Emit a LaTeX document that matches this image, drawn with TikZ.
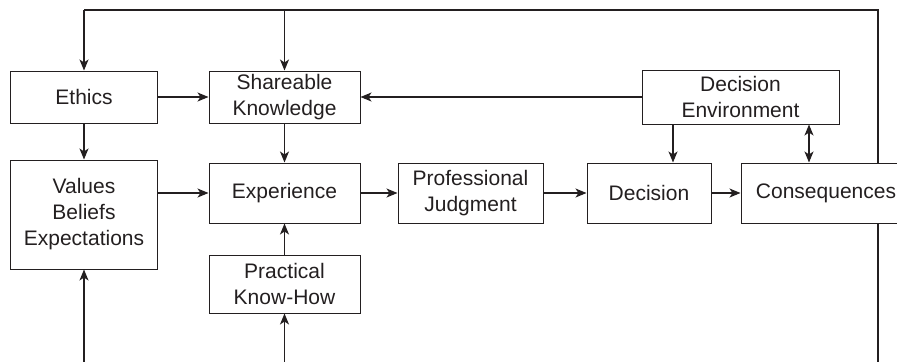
\documentclass[tikz,border=0pt]{standalone}
\usepackage{fontspec}
\setmainfont{Liberation Sans}
\usetikzlibrary{arrows.meta}
\definecolor{ink}{HTML}{231F20}
\begin{document}
\begin{tikzpicture}[x=1bp,y=-1bp,
  box/.style={draw=ink,line width=1bp,text=ink,align=center,inner sep=0pt,
    font=\fontsize{21bp}{26bp}\selectfont},
  conn/.style={draw=ink,line width=1.1bp},
  arr/.style={conn,-{Stealth[length=11bp,width=9bp,inset=3bp]}},
  darr/.style={conn,{Stealth[length=11bp,width=9bp,inset=3bp]}-{Stealth[length=11bp,width=9bp,inset=3bp]}}]
\useasboundingbox (0,0) rectangle (897,361);
\clip (0,0) rectangle (897,361);
\node[box,minimum width=146bp,minimum height=52bp] (eth) at (84,97) {Ethics};
\node[box,minimum width=151bp,minimum height=52bp] (sha) at (284.5,97) {Shareable\\Knowledge};
\node[box,minimum width=146bp,minimum height=109bp] (val) at (84,214.5) {Values\\Beliefs\\Expectations};
\node[box,minimum width=151bp,minimum height=60bp] (exp) at (284.5,193) {Experience};
\node[box,minimum width=151bp,minimum height=58bp] (pra) at (284.5,284) {Practical\\Know-How};
\node[box,minimum width=145bp,minimum height=60bp] (pro) at (470.5,193) {Professional\\Judgment};
\node[box,minimum width=124bp,minimum height=60bp] (dcs) at (649,193) {Decision};
\node[box,minimum width=170bp,minimum height=60bp] (con) at (826,193) {Consequences};
\node[box,minimum width=197bp,minimum height=54bp] (env) at (740.5,97) {Decision\\Environment};
\coordinate (tl) at (84,10);
\coordinate (tm) at (284.5,10);
\coordinate (tr) at (878,10);
\coordinate (br) at (878,370);
\coordinate (bl) at (84,370);
\coordinate (bm) at (284.5,370);
\coordinate (xa) at (673,0);
\coordinate (xb) at (809,0);
% top feedback loop
\draw[conn] (con.north -| tr) -- (tr) -- (tl);
\draw[arr] (tl) -- (eth.north);
\draw[arr] (tm) -- (sha.north);
\draw[conn] (con.south -| br) -- (br);
% bottom inputs
\draw[arr] (bl) -- (val.south);
\draw[arr] (bm) -- (pra.south);
% main flow
\draw[arr] (eth.east) -- (sha.west);
\draw[arr] (eth.south) -- (val.north);
\draw[arr] (env.west) -- (sha.east);
\draw[arr] (sha.south) -- (exp.north);
\draw[arr] (val.east |- exp.west) -- (exp.west);
\draw[arr] (pra.north) -- (exp.south);
\draw[arr] (exp.east) -- (pro.west);
\draw[arr] (pro.east) -- (dcs.west);
\draw[arr] (dcs.east) -- (con.west);
\draw[arr] (env.south -| xa) -- (dcs.north -| xa);
\draw[darr] (env.south -| xb) -- (con.north -| xb);
\end{tikzpicture}
\end{document}
